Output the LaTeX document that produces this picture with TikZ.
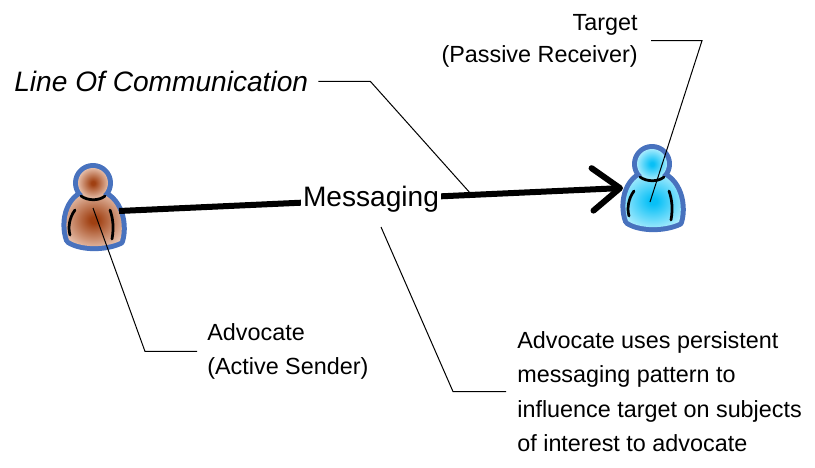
\documentclass[tikz,border=0pt]{standalone}
\usepackage{fontspec}
\setmainfont{Liberation Sans}
\usepackage{tikz}
\usetikzlibrary{arrows.meta}
\definecolor{iconblue}{RGB}{72,114,190}
\definecolor{senderin}{RGB}{160,64,18}
\definecolor{senderout}{RGB}{248,224,210}
\definecolor{targetin}{RGB}{8,192,246}
\definecolor{targetout}{RGB}{210,246,255}
\pgfdeclareradialshading{senderglow}{\pgfpoint{0bp}{0bp}}{color(0bp)=(senderin); color(3bp)=(senderin); color(32bp)=(senderout); color(50bp)=(senderout)}
\pgfdeclareradialshading{targetglow}{\pgfpoint{0bp}{0bp}}{color(0bp)=(targetin); color(3bp)=(targetin); color(32bp)=(targetout); color(50bp)=(targetout)}
\tikzstyle{outline}=[draw=iconblue,line width=0.2cm,line join=round]
\tikzstyle{crease}=[draw=black,line width=0.055cm,line cap=round]
\tikzstyle{leader}=[draw=black,line width=0.02cm]
\tikzstyle{callout}=[inner sep=0pt,font=\fontsize{13.3}{19.6}\selectfont]
\tikzstyle{message}=[line width=0.12cm,-{Straight Barb[length=0.55cm,width=0.85cm,round]}]
\newcommand \person [3] {
  \begin{scope}[shift={(#2)}]
    \coordinate (#1) at (0,0);
    \path[outline] (-24,57) .. controls (-31,38) and (-24,10) .. (0,9) .. controls (24,10) and (33,38) .. (27,58) .. controls (12,65) and (-12,65) .. (-24,57) -- cycle;
    \path[outline] (0,0) circle (0.3cm);
    \shade[shading=#3] (-24,57) .. controls (-31,38) and (-24,10) .. (0,9) .. controls (24,10) and (33,38) .. (27,58) .. controls (12,65) and (-12,65) .. (-24,57) -- cycle;
    \shade[shading=#3] (0,0) circle (0.3cm);
    \draw[crease] (-12,13) .. controls (-5,18) and (6,18) .. (12,13);
    \draw[crease] (-18,27) .. controls (-24,35) and (-25,45) .. (-23,52);
    \draw[crease] (17,27) .. controls (20,35) and (21,45) .. (19,56);
  \end{scope}}

\begin{document}
\begin{tikzpicture}[x=0.02cm,y=-0.02cm]
      \useasboundingbox (0,0) rectangle (815,467);
      \person{advocate}{93,183}{senderglow}
      \person{target}{652,164}{targetglow}
      \coordinate (advhand) at ([shift={(26,28)}]advocate);
      \coordinate (advchest) at ([shift={(0,25)}]advocate);
      \coordinate (tgtside) at ([shift={(-29,24)}]target);
      \coordinate (tgtchest) at ([shift={(-2,38)}]target);
      \draw[message] (advhand) -- node[fill=white,inner sep=1pt,font=\fontsize{16}{19}\selectfont] (messaging) {Messaging} coordinate[pos=0.7] (lochit) (tgtside);
      \node[callout,anchor=base west,font=\fontsize{16}{19}\selectfont\itshape] at (14,91.5) (loctext) {Line Of Communication};
      \node[callout,anchor=north east,align=right,font=\fontsize{13.3}{18.1}\selectfont] at (638,14) (tgttext) {Target\\(Passive Receiver)};
      \node[callout,anchor=north west,align=left] at (207,323) (advtext) {Advocate\\(Active Sender)};
      \node[callout,anchor=north west,align=left] at (517,331) (msgtext) {Advocate uses persistent\\messaging pattern to\\influence target on subjects\\of interest to advocate};
      \coordinate (msgfoot) at (381,227);
      \draw[leader] ([xshift=0.2cm]loctext.east) -- ([xshift=1.24cm]loctext.east) -- (lochit);
      \draw[leader] ([xshift=0.26cm]tgttext.east) -- ([xshift=1.28cm]tgttext.east) -- (tgtchest);
      \draw[leader] (advchest) -- ([xshift=-1.24cm]advtext.west) -- ([xshift=-0.2cm]advtext.west);
      \draw[leader] (msgfoot) -- ([xshift=-1.28cm]msgtext.west) -- ([xshift=-0.22cm]msgtext.west);
\end{tikzpicture}
\end{document}
